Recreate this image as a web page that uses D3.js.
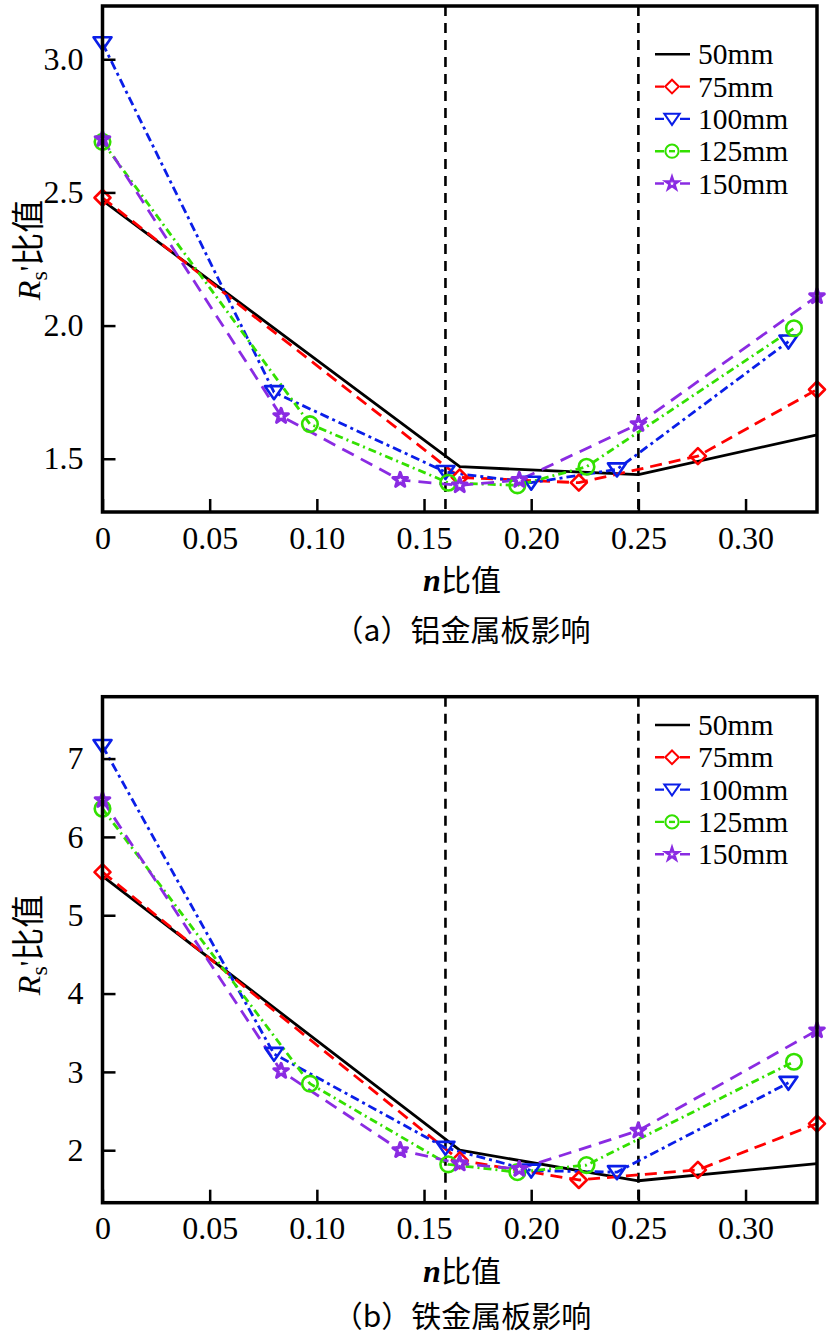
<!DOCTYPE html>
<html><head><meta charset="utf-8">
<script src="https://cdn.jsdelivr.net/npm/d3@7"></script>
<style>body{margin:0;background:#fff}</style>
</head><body><svg id="c" width="828" height="1336" xmlns="http://www.w3.org/2000/svg"></svg>
<script>
const seriesNames = ["50mm", "75mm", "100mm", "125mm", "150mm"];
const xTicks = [0, 0.05, 0.10, 0.15, 0.20, 0.25, 0.30];
const xTickLabels = ["0", "0.05", "0.10", "0.15", "0.20", "0.25", "0.30"];
const refLines = [0.16, 0.25];
const x50 = [0, 1/6, 1/4, 1/3];
const x75 = [0, 3/18, 4/18, 5/18, 6/18];
const x100 = [0, 0.08, 0.16, 0.20, 0.24, 0.32];
const x125 = [0, 3/31, 5/31, 6/31, 7/31, 10/31];
const x150 = [0, 3/36, 5/36, 6/36, 7/36, 9/36, 12/36];
// panel (a) aluminium plate
const a50 = [2.47, 1.47, 1.44, 1.59];
const a75 = [2.48, 1.43, 1.41, 1.51, 1.76];
const a100 = [3.06, 1.75, 1.45, 1.41, 1.46, 1.94];
const a125 = [2.69, 1.63, 1.41, 1.40, 1.47, 1.99];
const a150 = [2.70, 1.66, 1.42, 1.40, 1.42, 1.63, 2.11];
const aYTicks = [1.5, 2.0, 2.5, 3.0];
const aYLabels = ["1.5", "2.0", "2.5", "3.0"];
// panel (b) iron plate
const b50 = [5.50, 2.00, 1.61, 1.83];
const b75 = [5.55, 1.87, 1.62, 1.75, 2.34];
const b100 = [7.16, 3.23, 2.03, 1.74, 1.72, 2.86];
const b125 = [6.36, 2.85, 1.82, 1.72, 1.81, 3.13];
const b150 = [6.47, 3.01, 2.00, 1.83, 1.76, 2.25, 3.53];
const bYTicks = [2, 3, 4, 5, 6, 7];
const bYLabels = ["2", "3", "4", "5", "6", "7"];

const colors = ["#000000", "#ff0000", "#0a1ee8", "#33e000", "#8a2be2"];
const dashes = [null, "12,7", "9,4,3,4", "8,4,2,4", "13,8"];
const markers = [null, "diamond", "triangle", "circle", "star"];
const SERIF = "'Liberation Serif','DejaVu Serif',serif";
const CJK = "'Noto Sans CJK SC','Noto Sans CJK JP',sans-serif";

const svg = d3.select("#c");

function markerPath(type) {
  if (type === "diamond") return "M0,-8L8,0L0,8L-8,0Z";
  if (type === "triangle") return "M-9,-6L9,-6L0,7Z";
  if (type === "circle") return d3.symbol(d3.symbolCircle, 190)();
  if (type === "star") return d3.symbol(d3.symbolStar, 65)();
  return "";
}

function panel(opt) {
  const g = svg.append("g");
  const x = d3.scaleLinear().domain([0, 1/3]).range([102.5, 817]);
  const y = d3.scaleLinear().domain(opt.yDomain).range([opt.bottom, opt.top]);

  g.selectAll("line.ref").data(refLines).join("line")
    .attr("x1", d => x(d)).attr("x2", d => x(d))
    .attr("y1", opt.top).attr("y2", opt.bottom)
    .attr("stroke", "#000").attr("stroke-width", 2.6).attr("stroke-dasharray", "10,7");

  const line = d3.line().x(d => x(d[0])).y(d => y(d[1]));
  const sets = opt.series.map((vals, i) => ({i, pts: opt.xs[i].map((xv, k) => [xv, vals[k]])}));
  sets.forEach(s => {
    g.append("path").attr("d", line(s.pts)).attr("fill", "none")
      .attr("stroke", colors[s.i]).attr("stroke-width", 2.8)
      .attr("stroke-dasharray", dashes[s.i]).attr("stroke-linejoin", "round");
  });
  sets.forEach(s => {
    if (!markers[s.i]) return;
    g.selectAll(null).data(s.pts).join("path")
      .attr("d", markerPath(markers[s.i]))
      .attr("transform", d => `translate(${x(d[0])},${y(d[1])})`)
      .attr("fill", markers[s.i] === "star" ? "#fff" : "none")
      .attr("stroke", colors[s.i]).attr("stroke-width", markers[s.i] === "star" ? 3.2 : 2.6)
      .attr("stroke-linejoin", "round");
  });

  g.append("rect").attr("x", 102.5).attr("y", opt.top).attr("width", 817 - 102.5).attr("height", opt.bottom - opt.top)
    .attr("fill", "none").attr("stroke", "#000").attr("stroke-width", 3.5);

  const xa = d3.axisBottom(x).tickValues(xTicks).tickSize(-13)
    .tickFormat((d, i) => xTickLabels[i]).tickPadding(14);
  const xg = g.append("g").attr("transform", `translate(0,${opt.bottom})`).call(xa);
  xg.select(".domain").remove();
  xg.selectAll(".tick line").attr("stroke", "#000").attr("stroke-width", 2.5);
  xg.selectAll(".tick text").attr("font-family", SERIF).attr("font-size", 32).attr("fill", "#000");

  const ya = d3.axisLeft(y).tickValues(opt.yTicks).tickSize(-13)
    .tickFormat((d, i) => opt.yLabels[i]).tickPadding(19);
  const yg = g.append("g").attr("transform", `translate(102.5,0)`).call(ya);
  yg.select(".domain").remove();
  yg.selectAll(".tick line").attr("stroke", "#000").attr("stroke-width", 2.5);
  yg.selectAll(".tick text").attr("font-family", SERIF).attr("font-size", 32).attr("fill", "#000");

  const yl = g.append("text").attr("transform", `translate(40,${opt.yLabelY}) rotate(-90)`)
    .attr("text-anchor", "middle").attr("fill", "#000");
  yl.append("tspan").text("R").attr("font-family", SERIF).attr("font-style", "italic").attr("font-size", 32);
  yl.append("tspan").text("s").attr("font-family", SERIF).attr("font-size", 24).attr("dy", 7);
  yl.append("tspan").text("'").attr("font-family", SERIF).attr("font-size", 30).attr("dy", -7);
  yl.append("tspan").text("比值").attr("font-family", CJK).attr("font-size", 33);

  const xl = g.append("text").attr("x", 462).attr("y", opt.bottom + 79)
    .attr("text-anchor", "middle").attr("fill", "#000");
  xl.append("tspan").text("n").attr("font-family", SERIF).attr("font-style", "italic").attr("font-weight", "bold").attr("font-size", 32);
  xl.append("tspan").text("比值").attr("font-family", CJK).attr("font-size", 30);

  g.append("text").attr("x", 462).attr("y", opt.bottom + opt.capOff).attr("text-anchor", "middle")
    .attr("font-family", CJK).attr("font-size", 30).attr("fill", "#000").text(opt.caption);

  const lg = g.append("g");
  seriesNames.forEach((name, i) => {
    const ly = opt.legendY + i * 32.3;
    lg.append("line").attr("x1", 655).attr("x2", 690).attr("y1", ly).attr("y2", ly)
      .attr("stroke", colors[i]).attr("stroke-width", 2.4);
    if (markers[i]) {
      lg.append("rect").attr("x", 664).attr("y", ly - 8).attr("width", 16).attr("height", 16).attr("fill", "#fff");
      lg.append("path").attr("d", markerPath(markers[i])).attr("transform", `translate(672,${ly}) scale(0.85)`)
        .attr("fill", markers[i] === "star" ? "#fff" : "none")
        .attr("stroke", colors[i]).attr("stroke-width", markers[i] === "star" ? 3 : 2.4);
      if (markers[i] === "circle") {
        lg.append("line").attr("x1", 669).attr("x2", 675).attr("y1", ly).attr("y2", ly)
          .attr("stroke", colors[i]).attr("stroke-width", 2.4);
      }
    }
    lg.append("text").attr("x", 698).attr("y", ly + 10).attr("font-family", SERIF).attr("font-size", 29.5)
      .attr("fill", "#000").text(name);
  });
}

panel({
  top: 6, bottom: 512, yDomain: [1.3, 3.2], yTicks: aYTicks, yLabels: aYLabels,
  series: [a50, a75, a100, a125, a150], xs: [x50, x75, x100, x125, x150],
  caption: "（a）铝金属板影响", legendY: 54.3, yLabelY: 250, capOff: 129
});
panel({
  top: 696.7, bottom: 1202.7, yDomain: [1.33, 7.79], yTicks: bYTicks, yLabels: bYLabels,
  series: [b50, b75, b100, b125, b150], xs: [x50, x75, x100, x125, x150],
  caption: "（b）铁金属板影响", legendY: 725, yLabelY: 945, capOff: 124
});
</script>
</body></html>
